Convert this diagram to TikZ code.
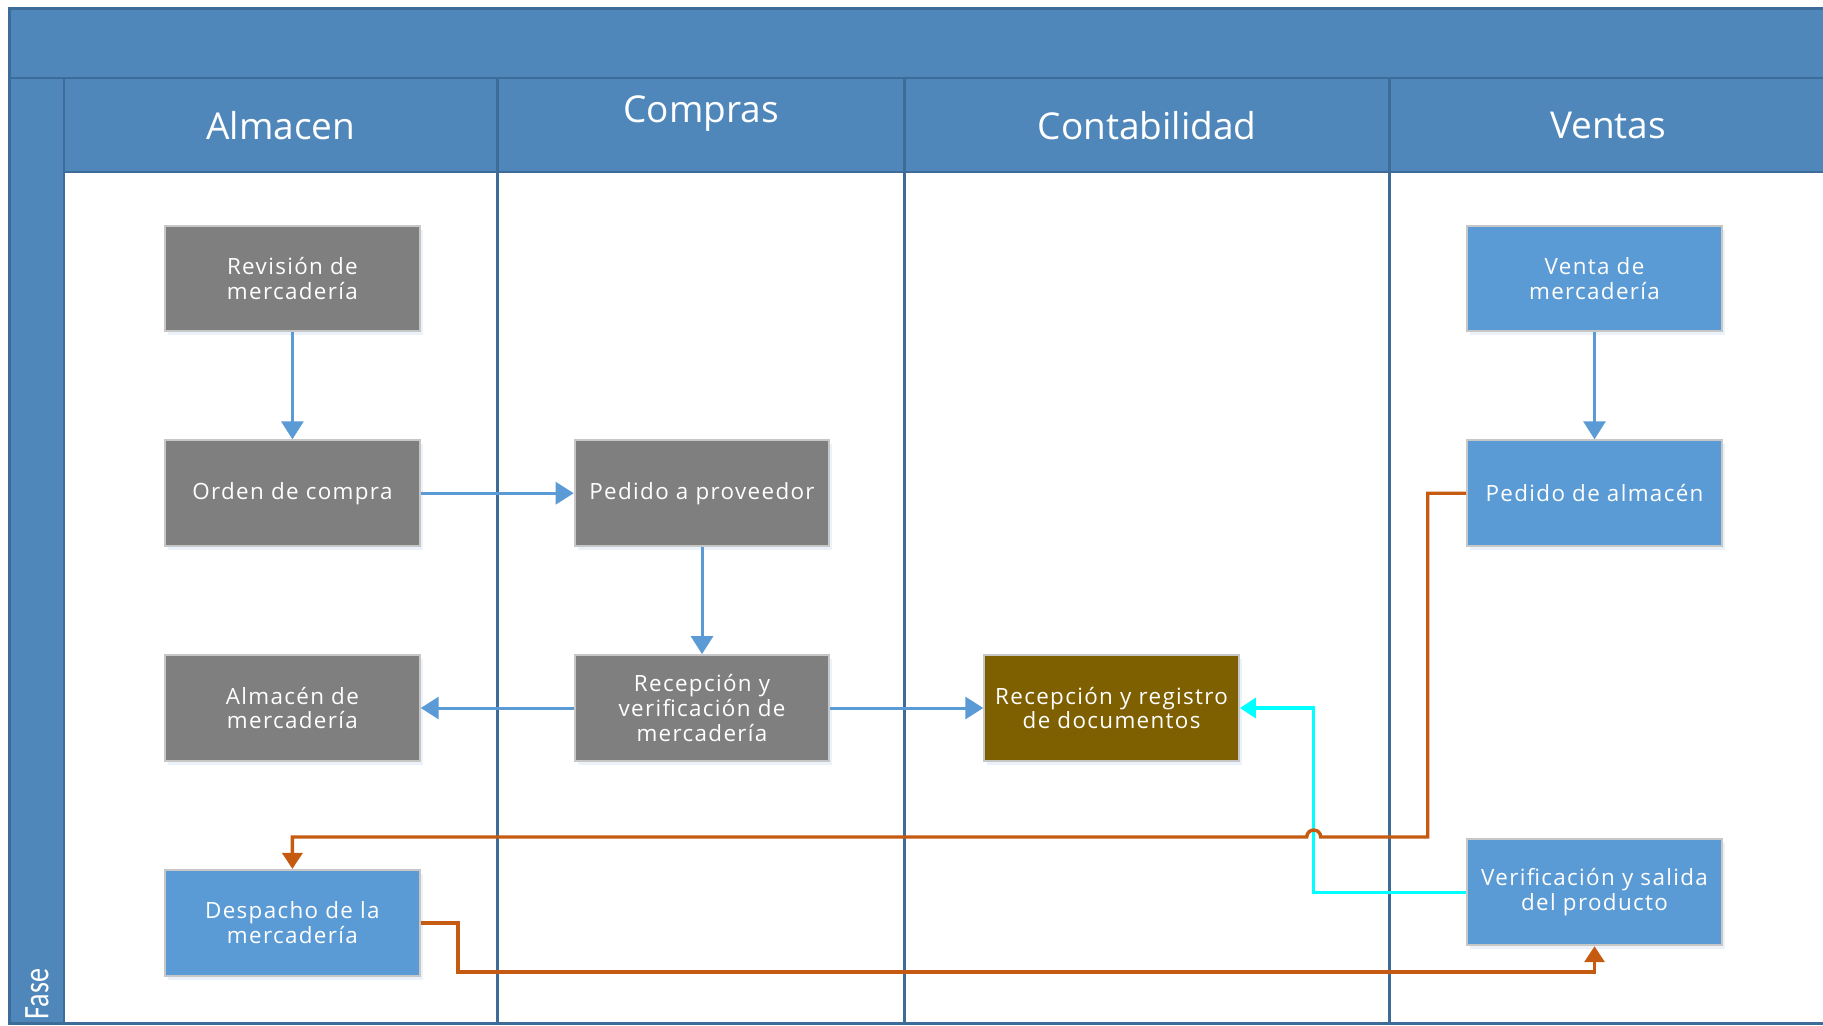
\documentclass[tikz,border=0pt]{standalone}
\usepackage{tikz}
\usetikzlibrary{arrows.meta,positioning,shadows}
\usepackage{xcolor}
\usepackage{fontspec}
\setmainfont{Open Sans}
\newfontfamily\boxfont[LetterSpace=6]{Open Sans}
\newfontfamily\fasefont[FakeStretch=0.78]{Carlito}
\definecolor{LaneBlue}{RGB}{79,135,186}
\definecolor{LaneLine}{RGB}{62,108,152}
\definecolor{BoxGray}{RGB}{127,127,127}
\definecolor{BoxBlue}{RGB}{91,155,213}
\definecolor{BoxBrown}{RGB}{127,96,0}
\definecolor{FlowOrange}{RGB}{197,90,17}
\definecolor{FlowCyan}{RGB}{0,255,255}

\begin{document}
\begin{tikzpicture}[x=0.5pt,y=-0.5pt,node distance=53.5pt and 76.5pt,
box/.style={rectangle,draw=black!22,line width=1pt,minimum width=127.3pt,minimum height=52.9pt,inner sep=0pt,align=center,text=white,font=\boxfont\fontsize{11.2}{12.4}\selectfont,drop shadow={shadow xshift=1.5pt,shadow yshift=-2pt,fill=BoxBlue!35,opacity=0.35}},
greybox/.style={box,fill=BoxGray},
bluebox/.style={box,fill=BoxBlue},
brownbox/.style={box,fill=BoxBrown},
lanelbl/.style={text=white,font=\fontsize{18.5}{22}\selectfont},
arrow/.style={-{Triangle[length=9pt,width=11pt]},draw=BoxBlue,line width=1.5pt},
oline/.style={-{Triangle[length=8pt,width=10pt]},draw=FlowOrange,line width=1.7pt},
cline/.style={-{Triangle[length=8pt,width=10pt]},draw=FlowCyan,line width=1.7pt}]
\useasboundingbox (0,0) rectangle (1823,1025);
\fill[white] (0,0) rectangle (1823,1025);
% swimlanes
\fill[LaneBlue] (9,8) rectangle (1823,172);
\fill[LaneBlue] (9,8) rectangle (64,1025);
\draw[LaneLine,line width=1.5pt] (9,1025) -- (9,8) -- (1823,8);
\draw[LaneLine,line width=1pt] (9,78) -- (1823,78);
\draw[LaneLine,line width=1pt] (64,172) -- (1823,172);
\draw[LaneLine,line width=1pt] (64,78) -- (64,1025);
\draw[LaneLine,line width=1.5pt] (9,1023) -- (1823,1023);
\foreach \x in {497.6,904.5,1389.3}{\draw[LaneLine,line width=1.5pt] (\x,78) -- (\x,1025);}
\node[lanelbl] (h1) at (281,125.6) {Almacen};
\node[lanelbl] (h2) at (701,114) {Compras};
\node[lanelbl] (h3) at (1147,125.6) {Contabilidad};
\node[lanelbl] (h4) at (1608,125.6) {Ventas};
\node[rotate=90,text=white,font=\fasefont\fontsize{18}{22}\selectfont] (fase) at (37,994) {Fase};
% activities
\node[greybox] (rev) at (292.4,278.4) {Revisión de\\mercadería};
\node[greybox,below=of rev] (ord) {Orden de compra};
\node[greybox,below=of ord] (alm) {Almacén de\\mercadería};
\node[bluebox,below=of alm] (desp) {Despacho de la\\mercadería};
\node[greybox,right=of ord] (ped) {Pedido a proveedor};
\node[greybox,below=of ped] (rec) {Recepción y\\verificación de\\mercadería};
\node[brownbox,right=of rec] (reg) {Recepción y registro\\de documentos};
\node[bluebox] (ven) at (1594.5,278.4) {Venta de\\mercadería};
\node[bluebox,below=of ven] (pal) {Pedido de almacén};
\node[bluebox] (ver) at (1594.5,892.3) {Verificación y salida\\del producto};
% flows
\foreach \x/\y in {rev/ord,ord/ped,ped/rec,rec/alm,rec/reg,ven/pal}{\draw[arrow] (\x)--(\y);}
\coordinate (obend) at (1427.7,837);
\coordinate (cbend) at (1313.7,0);
\draw[cline] (ver.west) -| (cbend |- reg.east) -- (reg.east);
\draw[oline] (pal.west) -| (obend) -- (1320.7,837) arc[start angle=0,end angle=-180,radius=7] -| (desp.north);
\draw[oline] (desp.east) -| (458,972) -| (ver.south);
\end{tikzpicture}
\end{document}
